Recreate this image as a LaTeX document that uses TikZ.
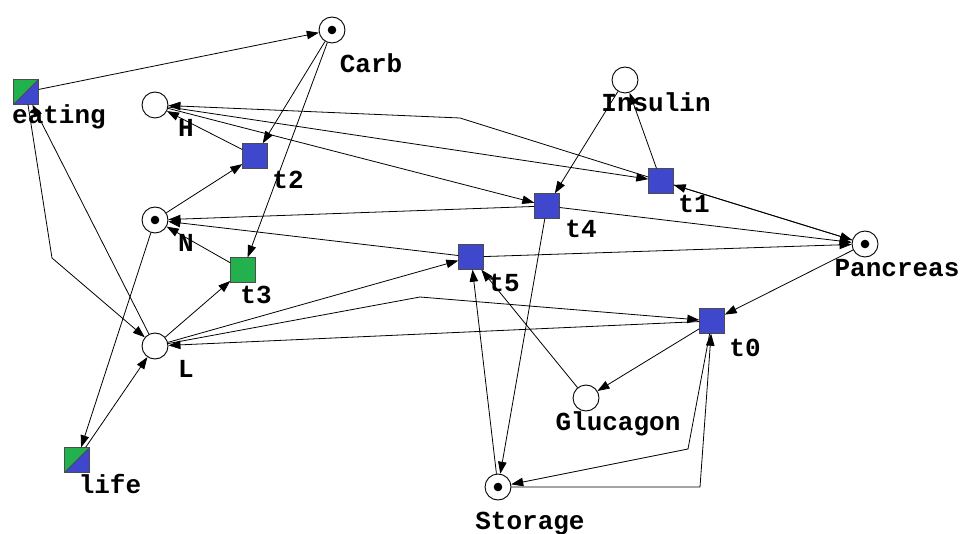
\documentclass[tikz,border=0pt]{standalone}
\usepackage{fontspec}
\newfontfamily\lblfont{Liberation Mono}
\usetikzlibrary{arrows.meta}
\definecolor{tblue}{HTML}{3F48CC}
\definecolor{tgreen}{HTML}{22B14C}
\tikzset{
  place/.style={circle, draw=black, line width=0.9pt, minimum size=26pt, inner sep=0pt, fill=white},
  marked/.style={place, path picture={\fill[black] (path picture bounding box.center) circle (4.3pt);}},
  trans/.style={rectangle, draw=black!70, line width=0.9pt, minimum size=24.5pt, inner sep=0pt, fill=tblue},
  greentrans/.style={trans, fill=tgreen},
  splittrans/.style={trans, fill=tblue, path picture={
      \fill[tgreen] (path picture bounding box.north west) -- (path picture bounding box.north east)
                    -- (path picture bounding box.south west) -- cycle;
      \draw[black!70, line width=0.8pt] (path picture bounding box.south west) -- (path picture bounding box.north east);}},
  lbl/.style={font=\lblfont\bfseries\fontsize{26pt}{26pt}\selectfont, anchor=base, inner sep=0pt},
  arc/.style={-{Triangle[length=12pt,width=8.5pt]}, line width=0.8pt, black}
}
\begin{document}
\begin{tikzpicture}[x=1pt,y=-1pt]
  \fill[white] (0,0) rectangle (960,534);
  \useasboundingbox (0,0) rectangle (960,534);

  % places
  \node[marked] (Carb)     at (332,30)  {};
  \node[place]  (H)        at (155,105) {};
  \node[marked] (N)        at (155,220) {};
  \node[place]  (L)        at (155,346) {};
  \node[place]  (Insulin)  at (625,80)  {};
  \node[marked] (Pancreas) at (865,244) {};
  \node[place]  (Glucagon) at (586,398) {};
  \node[marked] (Storage)  at (498,487) {};

  % transitions
  \node[splittrans] (eating) at (26,92)   {};
  \node[trans]      (t2)     at (255,156) {};
  \node[greentrans] (t3)     at (243,270) {};
  \node[trans]      (t4)     at (547,206) {};
  \node[trans]      (t1)     at (661,181) {};
  \node[trans]      (t5)     at (471,257) {};
  \node[trans]      (t0)     at (712,321) {};
  \node[splittrans] (life)   at (77,460)  {};

  % labels
  \node[lbl] (lCarb)     at (371,73)  {Carb};
  \node[lbl] (lH)        at (186,137) {H};
  \node[lbl] (lN)        at (186,252) {N};
  \node[lbl] (lL)        at (186,377) {L};
  \node[lbl] (lInsulin)  at (656,112) {Insulin};
  \node[lbl] (lPancreas) at (897,277) {Pancreas};
  \node[lbl] (lGlucagon) at (618,430) {Glucagon};
  \node[lbl] (lStorage)  at (530,529) {Storage};
  \node[lbl] (leating)   at (59,124)  {eating};
  \node[lbl] (lt2)       at (288,189) {t2};
  \node[lbl] (lt3)       at (256,303) {t3};
  \node[lbl] (lt4)       at (581,238) {t4};
  \node[lbl] (lt1)       at (694,213) {t1};
  \node[lbl] (lt5)       at (504,291) {t5};
  \node[lbl] (lt0)       at (745,356) {t0};
  \node[lbl] (llife)     at (110,493) {life};

  % bend points
  \coordinate (b1) at (460,118);
  \coordinate (b2) at (420,297);
  \coordinate (b3) at (688,449);
  \coordinate (b4) at (700,487);
  \coordinate (b5) at (52,258);

  % arcs
  \draw[arc] (eating) -- (Carb);
  \draw[arc] (Carb) -- (t2);
  \draw[arc] (Carb) -- (t3);
  \draw[arc] (t2) -- (H);
  \draw[arc] (N) -- (t2);
  \draw[arc] (H) -- (t4);
  \draw[arc] (H) -- (t1);
  \draw[arc] (t1) -- (b1) -- (H);
  \draw[arc] (Insulin) -- (t4);
  \draw[arc] (t1) -- (Insulin);
  \draw[arc] (Pancreas) -- (t1);
  \draw[arc] (t1) -- (Pancreas);
  \draw[arc] (t4) -- (N);
  \draw[arc] (t4) -- (Pancreas);
  \draw[arc] (t4) -- (Storage);
  \draw[arc] (t5) -- (N);
  \draw[arc] (t5) -- (Pancreas);
  \draw[arc] (L) -- (t5);
  \draw[arc] (L) -- (t3);
  \draw[arc] (t3) -- (N);
  \draw[arc] (L) -- (b2) -- (t0);
  \draw[arc] (t0) -- (L);
  \draw[arc] (Pancreas) -- (t0);
  \draw[arc] (t0) -- (Glucagon);
  \draw[arc] (Glucagon) -- (t5);
  \draw[arc] (Storage) -- (t5);
  \draw[arc] (t0) -- (b3) -- (Storage);
  \draw[arc] (Storage) -- (b4) -- (t0);
  \draw[arc] (eating) -- (b5) -- (L);
  \draw[arc] (L) -- (eating);
  \draw[arc] (N) -- (life);
  \draw[arc] (life) -- (L);
\end{tikzpicture}
\end{document}
